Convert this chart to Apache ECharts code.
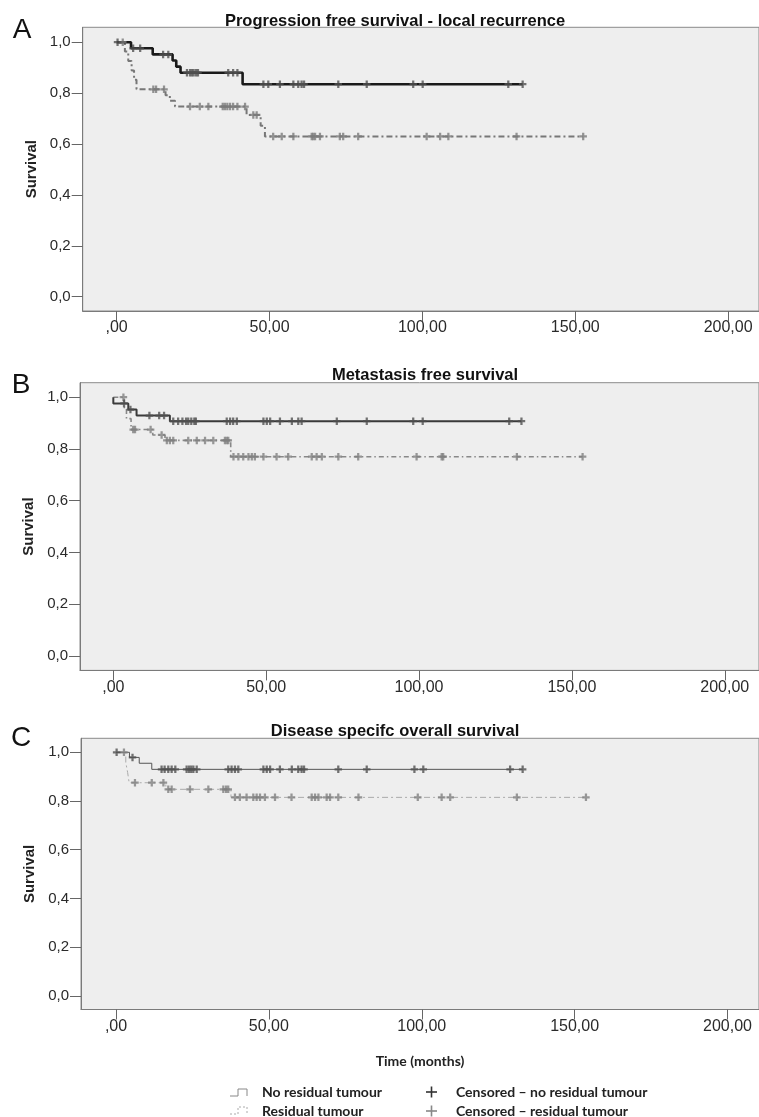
<!DOCTYPE html>
<html>
<head>
<meta charset="utf-8">
<script src="https://cdn.jsdelivr.net/npm/echarts@6/dist/echarts.min.js"></script>
<style>
  html, body { margin: 0; padding: 0; background: #fff; }
  #chart { width: 759px; height: 1117px; }
</style>
</head>
<body>
<div id="chart"></div>
<script>
// ---------------------------------------------------------------------------
// Data
// ---------------------------------------------------------------------------
const xTicks = [0, 50, 100, 150, 200];
const yTicks = [0, 0.2, 0.4, 0.6, 0.8, 1.0];
const panelTitles = ['Progression free survival - local recurrence', 'Metastasis free survival', 'Disease specifc overall survival'];
const panelLetters = ['A', 'B', 'C'];

// A - progression free survival
const aNoTime = [0, 4.7, 11.8, 18.3, 19.5, 20.9, 41.2, 132.8];
const aNoSurv = [1.0, 0.976, 0.952, 0.928, 0.904, 0.880, 0.835, 0.835];
const aNoCens = [0.3, 5.4, 7.7, 15.2, 16.9, 23, 24, 24.6, 25.2, 26, 26.6, 36.5, 38.1, 39.5, 48, 49.6, 53.4, 57.8, 59.4, 60.5, 61.3, 72.5, 81.8, 97, 100.1, 128.1, 132.8];
const aResTime = [0, 2.7, 3.8, 4.9, 5.7, 6.5, 16.0, 17.4, 19.1, 42.5, 47.1, 48.5, 152.6];
const aResSurv = [1.0, 0.963, 0.926, 0.889, 0.852, 0.815, 0.792, 0.770, 0.747, 0.714, 0.672, 0.630, 0.630];
const aResCens = [2.0, 12, 12.9, 15.5, 24, 27.2, 30, 34.7, 35.4, 36.2, 37.1, 38.1, 39.5, 42, 44.7, 45.8, 51.2, 54, 57.8, 63.8, 64.3, 64.9, 66.5, 73, 74.1, 79, 101.4, 105.8, 108.5, 130.8, 152.6];

// B - metastasis free survival
const bNoTime = [0, 0, 4.9, 7.6, 18.5, 133.5];
const bNoSurv = [1.0, 0.976, 0.952, 0.929, 0.907, 0.907];
const bNoCens = [3.5, 5.6, 11.8, 15, 16.6, 19.6, 21.2, 22.6, 23.8, 24.5, 25.5, 26.5, 27, 37.1, 38.2, 39.2, 40.4, 49.1, 50.2, 51.3, 54.5, 58.4, 60.5, 61.6, 73.1, 82.9, 98.1, 101.2, 129.5, 133.5];
const bResTime = [0, 3.6, 4.3, 5.8, 12.9, 16.9, 38.4, 153.5];
const bResSurv = [1.0, 0.958, 0.917, 0.875, 0.854, 0.833, 0.770, 0.770];
const bResCens = [3.3, 6.5, 7.1, 12.2, 15.8, 17.5, 18.5, 19.6, 24.5, 27.3, 30, 32.7, 36.5, 37.1, 37.6, 39.3, 40.9, 42.5, 44.2, 45.3, 46.3, 49.1, 53.4, 57.2, 64.9, 66.5, 68.2, 73.6, 80.1, 99.2, 107.4, 107.9, 132, 153.5];

// C - disease specific overall survival
const cNoTime = [0, 4.4, 7.6, 11.7, 133];
const cNoSurv = [1.0, 0.979, 0.955, 0.930, 0.930];
const cNoCens = [0.2, 5.4, 14.9, 15.9, 17.1, 18.2, 19.4, 23.1, 23.9, 24.6, 25.3, 26.4, 36.7, 37.8, 38.9, 40, 48.2, 49.3, 50.4, 53.6, 57.5, 59.6, 60.7, 61.5, 72.7, 82, 97.6, 100.5, 128.9, 133];
const cResTime = [0, 3.2, 3.8, 4.3, 16.3, 37.6, 153.7];
const cResSurv = [1.0, 0.958, 0.917, 0.875, 0.848, 0.815, 0.815];
const cResCens = [2.6, 6.2, 11.7, 15.5, 17.1, 18.2, 24.2, 30.2, 35.1, 36, 36.7, 38.9, 40.5, 42.7, 44.9, 46, 47.1, 48.7, 52, 57.4, 64, 65.1, 66.2, 68.9, 70, 72.7, 79.3, 98.7, 106.5, 109.3, 131.1, 153.7];

// ---------------------------------------------------------------------------
// Layout / styles per panel
// ---------------------------------------------------------------------------
var panels = [
    { left: 82.7, top: 27.3, height: 283.7, xMin: -11.1, xMax: 210.1, yMin: -0.056, yMax: 1.0585,
      titleX: 395, titleY: 21.5, letterX: 22, letterY: 30,
      no: [aNoTime, aNoSurv, aNoCens], res: [aResTime, aResSurv, aResCens],
      noLine: { color: '#1a1a1a', width: 2.6, type: 'solid' },
      resLine: { color: '#777', width: 2, type: [6, 3, 2, 3] },
      noMark: '#505050', resMark: '#7a7a7a' },
    { left: 80, top: 382.7, height: 287.7, xMin: -10.9, xMax: 211.2, yMin: -0.056, yMax: 1.056,
      titleX: 425, titleY: 375.5, letterX: 21, letterY: 385,
      no: [bNoTime, bNoSurv, bNoCens], res: [bResTime, bResSurv, bResCens],
      noLine: { color: '#3a3a3a', width: 2, type: 'solid' },
      resLine: { color: '#888', width: 1.6, type: [5, 3, 1.5, 3] },
      noMark: '#505050', resMark: '#808080' },
    { left: 81, top: 738.3, height: 271.2, xMin: -11.45, xMax: 210.3, yMin: -0.056, yMax: 1.0575,
      titleX: 395, titleY: 731.5, letterX: 21, letterY: 738,
      no: [cNoTime, cNoSurv, cNoCens], res: [cResTime, cResSurv, cResCens],
      noLine: { color: '#555', width: 1, type: 'solid' },
      resLine: { color: '#aaa', width: 1, type: [6, 3, 2, 3] },
      noMark: '#505050', resMark: '#808080' }
];

// filled plus sign for censored cases
var PLUS = 'path://M2.8,0H5.2V2.8H8V5.2H5.2V8H2.8V5.2H0V2.8H2.8Z';

function survAt(times, surv, t) {
    var s = surv[0];
    for (var i = 0; i < times.length; i++) {
        if (times[i] <= t) s = surv[i];
    }
    return s;
}

function xFmt(v) { return v === 0 ? ',00' : v.toFixed(2).replace('.', ','); }
function yFmt(v) { return v.toFixed(1).replace('.', ','); }

var grids = [], xAxes = [], yAxes = [], series = [], graphics = [];

panels.forEach(function(p, i) {
    grids.push({
        left: p.left, top: p.top, right: -2, height: p.height,
        show: true, backgroundColor: '#eeeeee', borderColor: '#8a8a8a', borderWidth: 1
    });

    xAxes.push({
        type: 'value', gridIndex: i, min: p.xMin, max: p.xMax,
        axisLine: { show: true, onZero: false, lineStyle: { color: '#7a7a7a', width: 1 } },
        axisTick: { show: true, length: 10, customValues: xTicks, lineStyle: { color: '#666' } },
        axisLabel: { customValues: xTicks, formatter: xFmt, fontSize: 16, color: '#2a2a2a',
                     fontFamily: 'Liberation Sans', margin: 9 },
        splitLine: { show: false },
        name: i === 2 ? 'Time (months)' : '',
        nameLocation: 'middle', nameGap: 45,
        nameTextStyle: { fontFamily: 'Lato', fontWeight: 'bold', fontSize: 14, color: '#222' }
    });

    yAxes.push({
        type: 'value', gridIndex: i, min: p.yMin, max: p.yMax,
        axisLine: { show: true, onZero: false, lineStyle: { color: '#7a7a7a', width: 1 } },
        axisTick: { show: true, length: 11, customValues: yTicks, lineStyle: { color: '#666' } },
        axisLabel: { customValues: yTicks, formatter: yFmt, fontSize: 15, color: '#2a2a2a',
                     fontFamily: 'Liberation Sans', margin: 12 },
        splitLine: { show: false },
        name: 'Survival', nameLocation: 'middle', nameGap: 43,
        nameTextStyle: { fontFamily: 'Liberation Sans', fontWeight: 'bold', fontSize: 15, color: '#222' }
    });

    // residual tumour (dashed) first, no residual on top
    [['res', p.resLine, p.resMark], ['no', p.noLine, p.noMark]].forEach(function(g) {
        var d = p[g[0]];
        series.push({
            type: 'line', xAxisIndex: i, yAxisIndex: i, step: 'end', symbol: 'none',
            lineStyle: g[1], silent: true, z: g[0] === 'no' ? 4 : 3,
            data: d[0].map(function(t, k) { return [t, d[1][k]]; })
        });
        series.push({
            type: 'scatter', xAxisIndex: i, yAxisIndex: i, symbol: PLUS, symbolSize: 7.5,
            itemStyle: { color: g[2] }, silent: true, z: 5,
            data: d[2].map(function(t) { return [t, survAt(d[0], d[1], t)]; })
        });
    });

    graphics.push({
        type: 'text', x: p.titleX, y: p.titleY,
        style: { text: panelTitles[i], align: 'center', verticalAlign: 'middle',
                 font: 'bold 16.5px "Liberation Sans", Arial, sans-serif', fill: '#111' }
    });
    graphics.push({
        type: 'text', x: p.letterX, y: p.letterY,
        style: { text: panelLetters[i], align: 'center', verticalAlign: 'middle',
                 font: '28px "Liberation Sans", Arial, sans-serif', fill: '#111' }
    });
});

// ---------------------------------------------------------------------------
// Legend (drawn as graphics, like the SPSS output)
// ---------------------------------------------------------------------------
var legFont = 'bold 14px Lato, sans-serif';
graphics.push(
    { type: 'polyline', shape: { points: [[230, 1096], [238, 1096], [238, 1089], [247, 1089], [247, 1096]] },
      style: { stroke: '#888', lineWidth: 1, fill: null } },
    { type: 'polyline', shape: { points: [[230, 1114], [238, 1114], [238, 1107], [247, 1107], [247, 1114]] },
      style: { stroke: '#aaa', lineWidth: 1, fill: null, lineDash: [2, 2] } },
    { type: 'line', shape: { x1: 426, y1: 1092, x2: 437, y2: 1092 }, style: { stroke: '#333', lineWidth: 1.6 } },
    { type: 'line', shape: { x1: 431.5, y1: 1086.5, x2: 431.5, y2: 1097.5 }, style: { stroke: '#333', lineWidth: 1.6 } },
    { type: 'line', shape: { x1: 426, y1: 1111, x2: 437, y2: 1111 }, style: { stroke: '#888', lineWidth: 1.6 } },
    { type: 'line', shape: { x1: 431.5, y1: 1105.5, x2: 431.5, y2: 1116.5 }, style: { stroke: '#888', lineWidth: 1.6 } },
    { type: 'text', x: 262, y: 1092, style: { text: 'No residual tumour', verticalAlign: 'middle', font: legFont, fill: '#222' } },
    { type: 'text', x: 262, y: 1111, style: { text: 'Residual tumour', verticalAlign: 'middle', font: legFont, fill: '#222' } },
    { type: 'text', x: 456, y: 1092, style: { text: 'Censored – no residual tumour', verticalAlign: 'middle', font: legFont, fill: '#222' } },
    { type: 'text', x: 456, y: 1111, style: { text: 'Censored – residual tumour', verticalAlign: 'middle', font: legFont, fill: '#222' } }
);

var chart = echarts.init(document.getElementById('chart'));
chart.setOption({
    animation: false,
    backgroundColor: '#ffffff',
    grid: grids,
    xAxis: xAxes,
    yAxis: yAxes,
    series: series,
    graphic: graphics
});
</script>
</body>
</html>
